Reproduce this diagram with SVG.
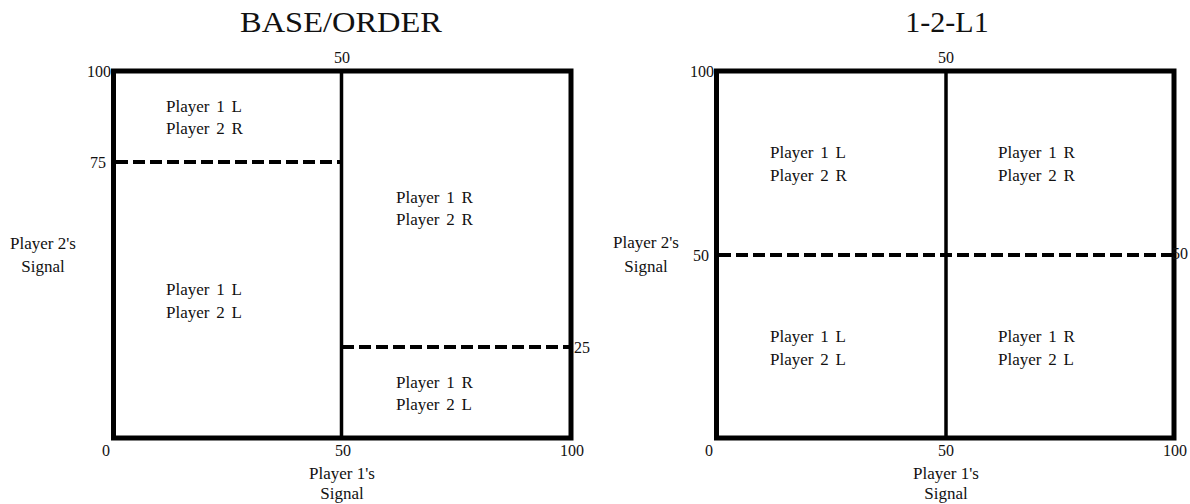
<svg xmlns="http://www.w3.org/2000/svg" width="1190" height="504" viewBox="0 0 1190 504">
  <style>
    .frame { fill: none; stroke: #000; stroke-width: 5; }
    .split { stroke: #000; stroke-width: 3.5; }
    .cut { stroke: #000; stroke-width: 4; stroke-dasharray: 12 5; fill: none; }
    text { font-family: "Liberation Serif", "Times New Roman", serif; fill: #111; }
    .title { font-size: 30px; text-anchor: middle; }
    .tick { font-size: 16px; }
    .mid { text-anchor: middle; }
    .end { text-anchor: end; }
    .axis { font-size: 17px; text-anchor: middle; }
    .region { font-size: 17px; word-spacing: 2.5px; }
  </style>

  <!-- Left panel: BASE/ORDER -->
  <g id="panel-base-order">
    <text class="title" x="341" y="32" textLength="202" lengthAdjust="spacingAndGlyphs">BASE/ORDER</text>
    <rect class="frame" x="113.5" y="71" width="457.5" height="367"/>
    <g id="base-dividers">
      <line class="split" x1="341.5" y1="71" x2="341.5" y2="438"/>
      <line class="cut" x1="116" y1="162" x2="341" y2="162"/>
      <line class="cut" x1="342" y1="347" x2="569" y2="347"/>
    </g>
    <g id="base-ticks">
      <text class="tick end" x="111" y="77">100</text>
      <text class="tick end" x="106" y="168">75</text>
      <text class="tick" x="574" y="353">25</text>
      <text class="tick mid" x="342" y="63">50</text>
      <text class="tick mid" x="106" y="456">0</text>
      <text class="tick mid" x="343" y="456">50</text>
      <text class="tick mid" x="572" y="456">100</text>
    </g>
    <g id="base-axes">
      <text class="axis" x="43" y="249">Player 2's</text>
      <text class="axis" x="43" y="272">Signal</text>
      <text class="axis" x="342" y="479">Player 1's</text>
      <text class="axis" x="342" y="499">Signal</text>
    </g>
    <g id="base-region-LR">
      <text class="region" x="166" y="112">Player 1 L</text>
      <text class="region" x="166" y="134">Player 2 R</text>
    </g>
    <g id="base-region-RR">
      <text class="region" x="396" y="203">Player 1 R</text>
      <text class="region" x="396" y="225">Player 2 R</text>
    </g>
    <g id="base-region-LL">
      <text class="region" x="166" y="295">Player 1 L</text>
      <text class="region" x="166" y="318">Player 2 L</text>
    </g>
    <g id="base-region-RL">
      <text class="region" x="396" y="388">Player 1 R</text>
      <text class="region" x="396" y="410">Player 2 L</text>
    </g>
  </g>

  <!-- Right panel: 1-2-L1 -->
  <g id="panel-1-2-L1">
    <text class="title" x="947" y="32" font-size="29">1-2-L1</text>
    <rect class="frame" x="716.5" y="71" width="457.5" height="367"/>
    <g id="l1-dividers">
      <line class="split" x1="946" y1="71" x2="946" y2="438"/>
      <line class="cut" x1="719" y1="255" x2="1172" y2="255"/>
    </g>
    <g id="l1-ticks">
      <text class="tick end" x="714" y="77">100</text>
      <text class="tick end" x="709" y="261">50</text>
      <text class="tick end" x="1188" y="259" font-size="12">50</text>
      <text class="tick mid" x="946" y="63">50</text>
      <text class="tick mid" x="709" y="456">0</text>
      <text class="tick mid" x="946" y="456">50</text>
      <text class="tick mid" x="1175" y="456">100</text>
    </g>
    <g id="l1-axes">
      <text class="axis" x="646" y="248">Player 2's</text>
      <text class="axis" x="646" y="272">Signal</text>
      <text class="axis" x="946" y="479">Player 1's</text>
      <text class="axis" x="946" y="499">Signal</text>
    </g>
    <g id="l1-region-LR">
      <text class="region" x="770" y="158">Player 1 L</text>
      <text class="region" x="770" y="181">Player 2 R</text>
    </g>
    <g id="l1-region-RR">
      <text class="region" x="998" y="158">Player 1 R</text>
      <text class="region" x="998" y="181">Player 2 R</text>
    </g>
    <g id="l1-region-LL">
      <text class="region" x="770" y="342">Player 1 L</text>
      <text class="region" x="770" y="365">Player 2 L</text>
    </g>
    <g id="l1-region-RL">
      <text class="region" x="998" y="342">Player 1 R</text>
      <text class="region" x="998" y="365">Player 2 L</text>
    </g>
  </g>
</svg>
